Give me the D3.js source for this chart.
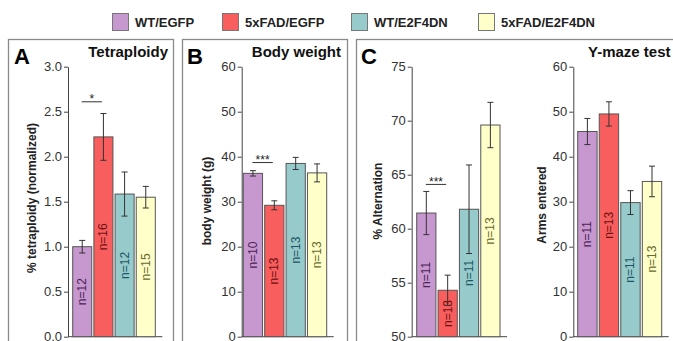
<!DOCTYPE html>
<html>
<head>
<meta charset="utf-8">
<script src="https://cdn.jsdelivr.net/npm/d3@7/dist/d3.min.js"></script>
<style>
  body { margin: 0; background: #fff; }
  text { font-family: "Liberation Sans", Arial, sans-serif; }
</style>
</head>
<body>
<svg id="chart"></svg>
<script>
// Groups and colours
const groups = ['WT/EGFP', '5xFAD/EGFP', 'WT/E2F4DN', '5xFAD/E2F4DN'];
const fills = ['#c797d0', '#f95e5e', '#97cbcb', '#ffffc9'];
const labelColors = ['#4b2457', '#6e1212', '#1d5566', '#6b6a2e'];

// A: tetraploidy
const tetraMean = [1.0, 2.22, 1.585, 1.55];
const tetraErr = [0.07, 0.26, 0.245, 0.12];
const tetraN = [12, 16, 12, 15];
const tetraTicks = [0, 0.5, 1.0, 1.5, 2.0, 2.5, 3.0];

// B: body weight
const weightMean = [36.3, 29.2, 38.5, 36.4];
const weightErr = [0.6, 1.0, 1.35, 2.0];
const weightN = [10, 13, 13, 13];
const weightTicks = [0, 10, 20, 30, 40, 50, 60];

// C: Y-maze, alternation
const altMean = [61.45, 54.3, 61.8, 69.6];
const altErr = [2.0, 1.4, 4.1, 2.1];
const altN = [11, 13, 11, 13];
const altTicks = [50, 55, 60, 65, 70, 75];

// C: Y-maze, arms entered
const armsMean = [45.6, 49.5, 29.8, 34.5];
const armsErr = [2.9, 2.7, 2.65, 3.4];
const armsN = [11, 13, 11, 13];
const armsTicks = [0, 10, 20, 30, 40, 50, 60];

const width = 673, height = 341;
const yTop = 66.7, yBottom = 336.7;

const svg = d3.select('#chart')
  .attr('width', width)
  .attr('height', height);

// Panel frames
const frames = [[8, 173], [182, 347], [356, 690]];
frames.forEach(f => {
  svg.append('rect')
    .attr('x', f[0] + 0.5).attr('y', 39.5)
    .attr('width', f[1] - f[0]).attr('height', 320)
    .attr('fill', 'none')
    .attr('stroke', '#8a8a8a')
    .attr('stroke-width', 1.3);
});

// Legend
const legendX = [112, 222, 351, 478];
const legend = svg.append('g');
groups.forEach((g, i) => {
  legend.append('rect')
    .attr('x', legendX[i] + 0.5).attr('y', 13.5)
    .attr('width', 16).attr('height', 17)
    .attr('fill', fills[i])
    .attr('stroke', '#777').attr('stroke-width', 1);
  legend.append('text')
    .attr('x', legendX[i] + 23).attr('y', 27)
    .style('font-size', '13px').style('font-weight', 'bold')
    .attr('fill', '#222')
    .text(g);
});

const panels = [
  { mean: tetraMean, err: tetraErr, n: tetraN, ticks: tetraTicks, domain: [0, 3], fmt: d3.format('.1f'),
    axisX: 68, bars: [72.7, 155.3], yLabel: '% tetraploidy (normalized)', yLabelX: 32, yLabelY: 198,
    title: 'Tetraploidy', titleX: 168, letter: 'A', letterX: 14, sig: { pair: [0, 1], level: 2.61, text: '*' } },
  { mean: weightMean, err: weightErr, n: weightN, ticks: weightTicks, domain: [0, 60], fmt: d3.format('d'),
    axisX: 241.7, bars: [243.3, 326.7], yLabel: 'body weight (g)', yLabelX: 207, yLabelY: 201,
    title: 'Body weight', titleX: 341, letter: 'B', letterX: 187, sig: { pair: [0, 1], level: 38.7, text: '***' } },
  { mean: altMean, err: altErr, n: altN, ticks: altTicks, domain: [50, 75], fmt: d3.format('d'),
    axisX: 411.7, bars: [416.7, 500], yLabel: '% Alternation', yLabelX: 378, yLabelY: 201,
    title: null, letter: 'C', letterX: 361, sig: { pair: [0, 1], level: 64.1, text: '***' } },
  { mean: armsMean, err: armsErr, n: armsN, ticks: armsTicks, domain: [0, 60], fmt: d3.format('d'),
    axisX: 573.3, bars: [577.7, 661.7], yLabel: 'Arms entered', yLabelX: 542, yLabelY: 205,
    title: 'Y-maze test', titleX: 588, titleAnchor: 'start', letter: null, sig: null }
];

panels.forEach(p => {
  const g = svg.append('g');
  const y = d3.scaleLinear().domain(p.domain).range([yBottom, yTop]);
  const x = d3.scaleBand().domain(groups).range(p.bars).paddingInner(0.1).paddingOuter(0);

  // y axis
  const axis = g.append('g')
    .attr('transform', `translate(${p.axisX},0)`)
    .call(d3.axisLeft(y).tickValues(p.ticks).tickFormat(p.fmt).tickSize(4).tickSizeOuter(0).tickPadding(2));
  axis.select('.domain').attr('stroke', '#444');
  axis.selectAll('.tick line').attr('stroke', '#444');
  axis.selectAll('.tick text')
    .attr('fill', '#333')
    .style('font-size', '13px')
    .style('font-family', '"Liberation Sans", Arial, sans-serif');

  // baseline
  g.append('line')
    .attr('x1', p.axisX).attr('x2', p.bars[1] + 7)
    .attr('y1', yBottom).attr('y2', yBottom)
    .attr('stroke', '#444');

  // bars
  g.selectAll('.bar')
    .data(groups)
    .enter()
    .append('rect')
    .attr('class', 'bar')
    .attr('x', d => x(d))
    .attr('y', (d, i) => y(p.mean[i]))
    .attr('width', x.bandwidth())
    .attr('height', (d, i) => yBottom - y(p.mean[i]))
    .attr('fill', (d, i) => fills[i])
    .attr('stroke', '#555')
    .attr('stroke-width', 1);

  // error bars
  groups.forEach((d, i) => {
    const cx = x(d) + x.bandwidth() / 2;
    const hi = y(p.mean[i] + p.err[i]);
    const lo = y(p.mean[i] - p.err[i]);
    g.append('line').attr('x1', cx).attr('x2', cx).attr('y1', hi).attr('y2', lo)
      .attr('stroke', '#333').attr('stroke-width', 1);
    [hi, lo].forEach(v => {
      g.append('line').attr('x1', cx - 3).attr('x2', cx + 3).attr('y1', v).attr('y2', v)
        .attr('stroke', '#333').attr('stroke-width', 1);
    });
  });

  // n labels
  g.selectAll('.nlabel')
    .data(groups)
    .enter()
    .append('text')
    .attr('class', 'nlabel')
    .attr('transform', (d, i) => {
      const cx = x(d) + x.bandwidth() / 2;
      const cy = (y(p.mean[i]) + yBottom) / 2;
      return `translate(${cx + 4},${cy}) rotate(-90)`;
    })
    .attr('text-anchor', 'middle')
    .style('font-size', '12px')
    .attr('fill', (d, i) => labelColors[i])
    .text((d, i) => `n=${p.n[i]}`);

  // y label
  g.append('text')
    .attr('transform', `translate(${p.yLabelX + 4},${p.yLabelY}) rotate(-90)`)
    .attr('text-anchor', 'middle')
    .style('font-size', '12px')
    .style('font-weight', 'bold')
    .attr('fill', '#222')
    .text(p.yLabel);

  // title
  if (p.title) {
    g.append('text')
      .attr('x', p.titleX).attr('y', 57)
      .attr('text-anchor', p.titleAnchor || 'end')
      .style('font-size', '15px')
      .style('font-weight', 'bold')
      .attr('fill', '#111')
      .text(p.title);
  }
  if (p.letter) {
    g.append('text')
      .attr('x', p.letterX).attr('y', 63.5)
      .style('font-size', '22px')
      .style('font-weight', 'bold')
      .attr('fill', '#000')
      .text(p.letter);
  }

  // significance
  if (p.sig) {
    const a = x(groups[p.sig.pair[0]]) + x.bandwidth() / 2;
    const b = x(groups[p.sig.pair[1]]) + x.bandwidth() / 2;
    const ly = y(p.sig.level);
    g.append('line')
      .attr('x1', a - 0.5).attr('x2', b - 1.5)
      .attr('y1', ly).attr('y2', ly)
      .attr('stroke', '#333').attr('stroke-width', 1);
    g.append('text')
      .attr('x', (a + b) / 2 - 1).attr('y', ly + 1.5)
      .attr('text-anchor', 'middle')
      .style('font-size', '12px')
      .attr('fill', '#222')
      .text(p.sig.text);
  }
});
</script>
</body>
</html>
